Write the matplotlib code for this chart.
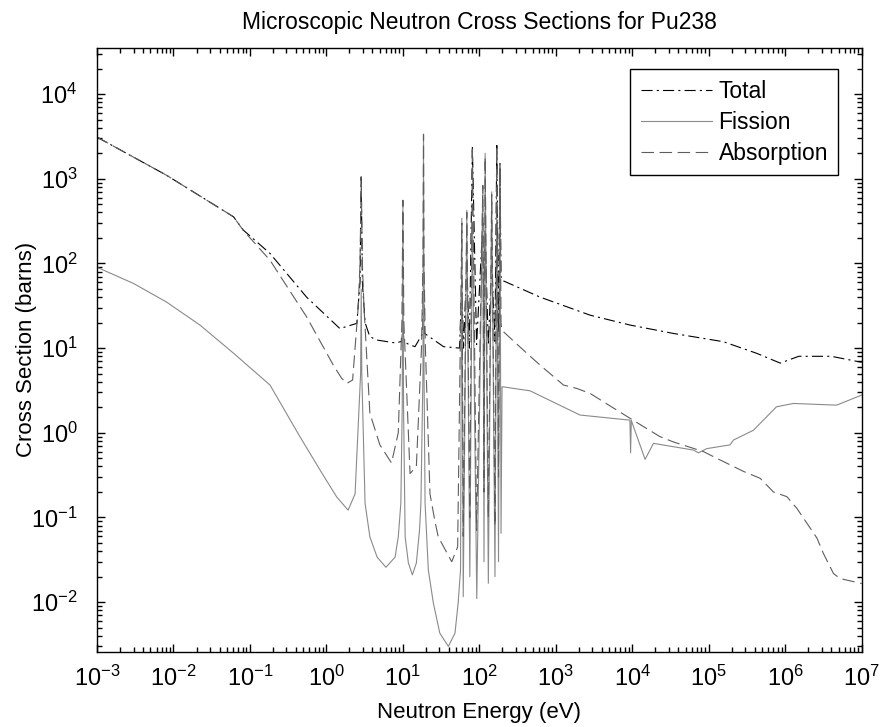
import matplotlib
matplotlib.use("Agg")
import matplotlib.pyplot as plt
from matplotlib.ticker import FixedLocator, LogLocator, NullFormatter

plt.rcParams.update(
    {
        "font.family": ["Liberation Sans", "DejaVu Sans"],
        "mathtext.fontset": "custom",
        "mathtext.rm": "Liberation Sans",
        "mathtext.it": "Liberation Sans",
        "lines.scale_dashes": False,
    }
)

# Total cross section (barns) vs neutron energy (eV)
total_e = [1e-3, 8.1e-3, 0.061, 0.082, 0.183, 0.55, 1.5, 2.5, 2.75, 2.85, 2.95, 3.2,
           3.7, 4.7, 8.0, 9.7, 10.0, 10.3, 12.0, 14.4, 18.2, 18.6, 19.0, 34.0, 55.0,
           59.0, 62.0, 68.5, 74.0, 81.0, 92.0, 111.0, 115.0, 119.0, 131.0, 145.0,
           160.0, 169.0, 178.0, 186.0, 192.0, 196.0, 622.0, 2800.0, 9360.0, 34400.0,
           1.55e5, 4.2e5, 8.6e5, 1.5e6, 4e6, 1e7]
total_s = [3100, 1100, 355, 247, 131, 40, 17, 19.6, 60, 1050, 60, 20,
           13.6, 12.4, 11.5, 12, 18, 12, 11, 10.4, 15, 100, 15, 10.4, 10,
           60, 10, 100, 10, 2400, 11, 300, 12, 200, 11, 100,
           12, 2470, 15, 1400, 70, 63.5, 40, 24.5, 18.7, 14.9,
           11.9, 8.7, 6.65, 8, 8, 6.8]

# Fission cross section
fission_e = [1e-3, 3e-3, 8.1e-3, 0.0222, 0.061, 0.183, 0.45, 0.83, 1.36, 1.92, 2.37,
             2.6, 2.8, 2.85, 2.9, 3.2, 3.7, 4.6, 6.0, 7.9, 8.7, 9.4, 9.8, 10.0, 10.2,
             10.7, 11.8, 13.3, 15.0, 16.5, 17.2, 18.3, 18.6, 18.9, 19.5, 21.5, 25.0,
             30.4, 39.3, 48.0, 52.8, 56.7, 59.0, 61.5, 68.5, 75.0, 81.0, 92.5, 111.0,
             115.0, 119.0, 131.0, 145.0, 160.0, 169.0, 178.0, 186.0, 192.0, 198.0,
             460.0, 2070.0, 9300.0, 9500.0, 9700.0, 14700.0, 18900.0, 63000.0,
             73300.0, 94300.0, 1.9e5, 2.1e5, 3.83e5, 7.7e5, 1.28e6, 4.7e6, 1e7]
fission_s = [90, 58, 35, 18.7, 8.7, 3.66, 0.9, 0.36, 0.175, 0.122, 0.19,
             1.18, 5, 50, 5, 0.147, 0.059, 0.034, 0.0258, 0.034, 0.059, 0.147, 2, 556, 2,
             0.059, 0.029, 0.021, 0.029, 0.071, 0.147, 5, 3350, 5, 0.147, 0.024, 0.0098,
             0.0043, 0.0030, 0.0043, 0.0098, 0.024, 343, 0.0116, 425, 0.02, 300, 0.011, 800,
             0.03, 2000, 0.0167, 700, 0.02, 500, 0.03, 1500, 0.065, 3.5,
             3.13, 1.62, 1.41, 0.58, 1.4, 0.485, 0.75, 0.625,
             0.58, 0.65, 0.72, 0.82, 1.07, 2.03, 2.22, 2.12, 2.79]

# Absorption cross section
absorp_e = [1e-3, 8.1e-3, 0.061, 0.082, 0.183, 0.55, 1.23, 1.58, 1.85, 2.2, 2.6, 2.75,
            2.85, 2.95, 3.1, 3.7, 5.0, 7.1, 8.7, 9.7, 10.0, 10.3, 12.4, 15.0, 17.5,
            18.3, 18.6, 18.9, 19.7, 22.6, 26.3, 29.0, 43.5, 52.0, 59.0, 61.5, 68.5,
            75.0, 81.0, 92.0, 111.0, 115.0, 119.0, 131.0, 145.0, 160.0, 169.0, 178.0,
            186.0, 192.0, 196.0, 417.0, 622.0, 1260.0, 1880.0, 2800.0, 4200.0, 9360.0,
            23000.0, 34400.0, 85000.0, 1.27e5, 2.84e5, 4.7e5, 7e5, 1.05e6, 1.42e6,
            2.6e6, 3.15e6, 4.27e6, 5.2e6, 1e7]
absorp_s = [3100, 1100, 355, 245, 109, 23.4, 6.3, 4.4, 3.83, 4.2, 30, 100,
            1050, 100, 30, 1.7, 0.72, 0.44, 1.0, 20, 556, 20, 0.33, 0.4, 10,
            100, 3350, 100, 10, 0.19, 0.089, 0.059, 0.03, 0.045, 300, 0.06, 400,
            0.1, 2400, 0.07, 835, 0.2, 1800, 0.1, 650, 0.08, 2400, 0.3,
            1520, 20, 16.3, 8.7, 6.3, 3.66, 3.34, 2.92, 2.32, 1.48,
            0.9, 0.78, 0.6, 0.5, 0.35, 0.29, 0.2, 0.176, 0.128,
            0.057, 0.0377, 0.0218, 0.019, 0.0166]

# decade ticks shown on each axis
x_decades = list(range(-3, 8))
y_decades = list(range(-2, 5))

fig = plt.figure(figsize=(8.82, 7.27), dpi=100)
ax = fig.add_axes([0.110, 0.1036, 0.867, 0.8304])

lw = 0.8
ax.plot(total_e, total_s, color="black", linewidth=lw,
        dashes=(8, 3, 1.5, 3), label="Total")
ax.plot(fission_e, fission_s, color="#8a8a8a", linewidth=lw, label="Fission")
ax.plot(absorp_e, absorp_s, color="#5e5e5e", linewidth=lw,
        dashes=(9, 4), label="Absorption")

ax.set_xscale("log")
ax.set_yscale("log")
ax.set_xlim(1e-3, 1e7)
ax.set_ylim(2.6e-3, 3.5e4)

ax.xaxis.set_major_locator(FixedLocator([10.0 ** k for k in x_decades]))
ax.yaxis.set_major_locator(FixedLocator([10.0 ** k for k in y_decades]))
ax.xaxis.set_minor_locator(LogLocator(base=10, subs=range(2, 10), numticks=200))
ax.yaxis.set_minor_locator(LogLocator(base=10, subs=range(2, 10), numticks=200))
ax.xaxis.set_minor_formatter(NullFormatter())
ax.yaxis.set_minor_formatter(NullFormatter())

ax.tick_params(which="both", direction="in", top=True, right=True, width=1.0)
ax.tick_params(which="major", length=6, labelsize=17)
ax.tick_params(which="minor", length=3.5)
ax.tick_params(axis="x", which="major", pad=10)
ax.tick_params(axis="y", which="major", pad=14)
for sp in ax.spines.values():
    sp.set_linewidth(1.0)

ax.set_title("Microscopic Neutron Cross Sections for Pu238", fontsize=16.5, pad=14)
ax.set_xlabel("Neutron Energy (eV)", fontsize=16, labelpad=8)
ax.set_ylabel("Cross Section (barns)", fontsize=16, labelpad=-4)

leg = ax.legend(loc="upper right", bbox_to_anchor=(0.9695, 0.9647),
                borderaxespad=0, fontsize=16.5, handlelength=3.1,
                handletextpad=0.3, labelspacing=0.35, borderpad=0.45,
                fancybox=False, edgecolor="black", framealpha=1)
leg.get_frame().set_linewidth(1.0)

fig.savefig("out.png", dpi=100)
